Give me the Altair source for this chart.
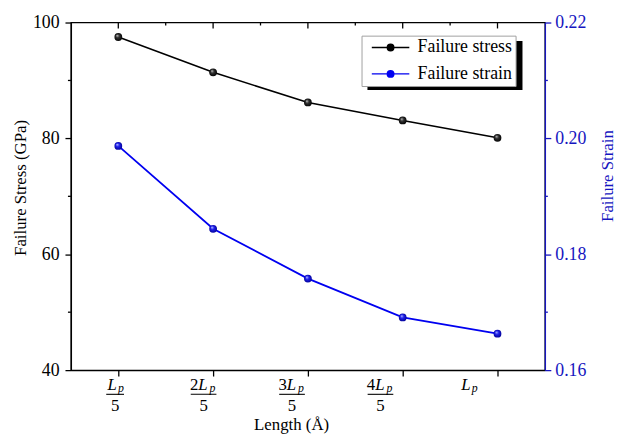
import altair as alt
import pandas as pd

# ---------------- data ----------------
positions = [1, 2, 3, 4, 5]
stress = [97.5, 91.4, 86.2, 83.1, 80.1]
strain = [0.1987, 0.1844, 0.1758, 0.1691, 0.1663]
coefficients = ["", "2", "3", "4", ""]
denominators = ["5", "5", "5", "5", ""]
stress_ticks = [40, 60, 80, 100]
stress_minor = [50, 70, 90]
strain_ticks = [0.16, 0.18, 0.20, 0.22]
strain_minor = [0.17, 0.19, 0.21]
x_minor = [1.5, 2.5, 3.5, 4.5]
series_names = ["Failure stress", "Failure strain"]

# ---------------- style ----------------
SERIF = "Liberation Serif"
BLACK = "#000000"
BLUE = "#0000f0"
AXIS_BLUE = "#1515c0"
W, H = 480, 352
PAD = {"left": 63.7, "top": 12, "right": 72, "bottom": 64}

stress_df = pd.DataFrame({"pos": positions, "value": stress, "series": series_names[0]})
strain_df = pd.DataFrame({"pos": positions, "value": strain, "series": series_names[1]})
label_df = pd.DataFrame({"pos": positions, "coef": coefficients, "den": denominators})

x_scale = alt.Scale(domain=[0.5, 5.5], nice=False, zero=False)
x_axis = alt.Axis(values=positions, labels=False, tickSize=6, tickWidth=1.3,
                  tickColor=BLACK, domainColor=BLACK, domainWidth=1.3, grid=False,
                  title="Length (Å)", titleFont=SERIF, titleFontSize=17,
                  titleFontWeight="normal", titleColor=BLACK,
                  titleX=223, titleY=60, titleBaseline="alphabetic")

yl_scale = alt.Scale(domain=[40, 100], nice=False, zero=False)
yl_axis = alt.Axis(values=stress_ticks, orient="left", format="d", tickSize=6,
                   tickWidth=1.3, labelPadding=6, labelFont=SERIF, labelFontSize=18,
                   labelColor=BLACK, domainColor=BLACK, domainWidth=1.3,
                   tickColor=BLACK, grid=False, zindex=1,
                   title="Failure Stress (GPa)", titleFont=SERIF, titleFontSize=17,
                   titleFontWeight="normal", titleColor=BLACK, titleAngle=270,
                   titleX=-45.7, titleY=167, titleBaseline="alphabetic")

yr_scale = alt.Scale(domain=[0.16, 0.22], nice=False, zero=False)
yr_axis = alt.Axis(values=strain_ticks, orient="right", format=".2f", tickSize=6,
                   tickWidth=1.3, labelPadding=4, labelFont=SERIF, labelFontSize=18,
                   labelColor=AXIS_BLUE, domainColor=AXIS_BLUE, domainWidth=1.3,
                   tickColor=AXIS_BLUE, grid=False, zindex=1,
                   title="Failure Strain", titleFont=SERIF, titleFontSize=17,
                   titleFontWeight="normal", titleColor=AXIS_BLUE, titleAngle=270,
                   titleX=68, titleY=155, titleBaseline="alphabetic")

X = alt.X("pos:Q", scale=x_scale, axis=x_axis)
YL = alt.Y("value:Q", scale=yl_scale, axis=yl_axis)
YR = alt.Y("value:Q", scale=yr_scale, axis=yr_axis)

# legend symbol: line with a dot (concentric rings fill the dot)
def ring(cx, r):
    return (f"M{cx + r:.3f},0A{r:.3f},{r:.3f},0,1,1,{cx - r:.3f},0"
            f"A{r:.3f},{r:.3f},0,1,1,{cx + r:.3f},0")

SYMBOL_PATH = "M-0.21,0H4.79" + "".join(ring(2.29, r) for r in (0.1, 0.26, 0.43))

LEG_X, LEG_Y = 294.3, 13.3
legend = alt.Legend(title=None, orient="none", legendX=LEG_X, legendY=LEG_Y,
                    direction="vertical", symbolType=SYMBOL_PATH, symbolSize=231,
                    symbolStrokeWidth=1.5, labelFont=SERIF, labelFontSize=18,
                    labelColor=BLACK, labelOffset=35.8, rowPadding=8.7, padding=3,
                    strokeColor="#a0a0a0", fillColor="white")

stroke_scale = alt.Scale(domain=series_names, range=[BLACK, BLUE])
STROKE = alt.Stroke("series:N", scale=stroke_scale, legend=legend)

grad_black = {"gradient": "radial", "x1": 0.35, "y1": 0.3, "r1": 0.0,
              "x2": 0.5, "y2": 0.5, "r2": 0.55,
              "stops": [{"offset": 0, "color": "#d8d8d8"},
                        {"offset": 0.4, "color": "#303030"},
                        {"offset": 1, "color": "#000000"}]}
grad_blue = {"gradient": "radial", "x1": 0.35, "y1": 0.3, "r1": 0.0,
             "x2": 0.5, "y2": 0.5, "r2": 0.55,
             "stops": [{"offset": 0, "color": "#d0dcff"},
                       {"offset": 0.4, "color": "#2020f0"},
                       {"offset": 1, "color": "#000090"}]}

# ---------------- left (stress) group ----------------
shadow = alt.Chart(pd.DataFrame({"a": [0]})).mark_rect(color=BLACK).encode(
    x=alt.value(LEG_X + 6), x2=alt.value(LEG_X + 163),
    y=alt.value(LEG_Y + 5.5), y2=alt.value(LEG_Y + 55))

stress_line = alt.Chart(stress_df).mark_line(strokeWidth=1.6).encode(x=X, y=YL, stroke=STROKE)
stress_pts = alt.Chart(stress_df).mark_circle(size=62, fill=grad_black, opacity=1).encode(x=X, y=YL)

left_minor = alt.Chart(pd.DataFrame({"value": stress_minor})).mark_rule(
    color=BLACK, strokeWidth=1.3).encode(y=YL, x=alt.value(-3), x2=alt.value(0))
top_major = alt.Chart(pd.DataFrame({"pos": positions})).mark_rule(
    color=BLACK, strokeWidth=1.3).encode(x=X, y=alt.value(0), y2=alt.value(6))
top_minor = alt.Chart(pd.DataFrame({"pos": x_minor})).mark_rule(
    color=BLACK, strokeWidth=1.3).encode(x=X, y=alt.value(0), y2=alt.value(3))

LX = alt.X("lx:Q", scale=x_scale, axis=x_axis)


def label_text(flt, text, dx, y, size, italic=False, align="left"):
    return (alt.Chart(label_df)
            .transform_calculate(lx="0.5 + 0.933 * (datum.pos - 0.5)")
            .transform_filter(flt)
            .mark_text(dx=dx, align=align, baseline="alphabetic", font=SERIF,
                       fontSize=size, fontStyle="italic" if italic else "normal",
                       color=BLACK)
            .encode(x=LX, y=alt.value(y), text=text))


def frac_bar(flt, width):
    return (alt.Chart(label_df)
            .transform_calculate(lx="0.5 + 0.933 * (datum.pos - 0.5)")
            .transform_filter(flt)
            .mark_tick(orient="horizontal", size=width, thickness=1.1, color=BLACK, opacity=1)
            .encode(x=LX, y=alt.value(H + 24.5)))


labels = [
    label_text("datum.coef != ''", "coef:N", -5.3, H + 20.5, 17, align="right"),
    label_text("datum.coef != ''", alt.value("L"), -5.3, H + 20.5, 17, italic=True),
    label_text("datum.coef != ''", alt.value("p"), 6, H + 22.5, 12, italic=True),
    label_text("datum.coef == ''", alt.value("L"), -7.8, H + 20.5, 17, italic=True),
    label_text("datum.coef == ''", alt.value("p"), 2.8, H + 22.5, 12, italic=True),
    label_text("datum.den != ''", "den:N", 0, H + 41, 17, align="center"),
    frac_bar("datum.den != '' && datum.coef == ''", 18),
    frac_bar("datum.coef != ''", 26),
]

left_group = alt.layer(shadow, stress_line, stress_pts, left_minor, top_major,
                       top_minor, *labels)

# ---------------- right (strain) group ----------------
strain_line = alt.Chart(strain_df).mark_line(strokeWidth=1.8).encode(x=X, y=YR, stroke=STROKE)
strain_pts = alt.Chart(strain_df).mark_circle(size=62, fill=grad_blue, opacity=1).encode(x=X, y=YR)
right_minor = alt.Chart(pd.DataFrame({"value": strain_minor})).mark_rule(
    color=AXIS_BLUE, strokeWidth=1.3).encode(y=YR, x=alt.value(W), x2=alt.value(W + 3))

right_group = alt.layer(strain_line, strain_pts, right_minor)

chart = (alt.layer(left_group, right_group)
         .resolve_scale(y="independent")
         .properties(width=W, height=H, padding=PAD,
                     autosize=alt.AutoSizeParams(type="none"))
         .configure_view(stroke=BLACK, strokeWidth=1.3))

chart.save("out.html", embed_options={"renderer": "svg", "actions": False})
